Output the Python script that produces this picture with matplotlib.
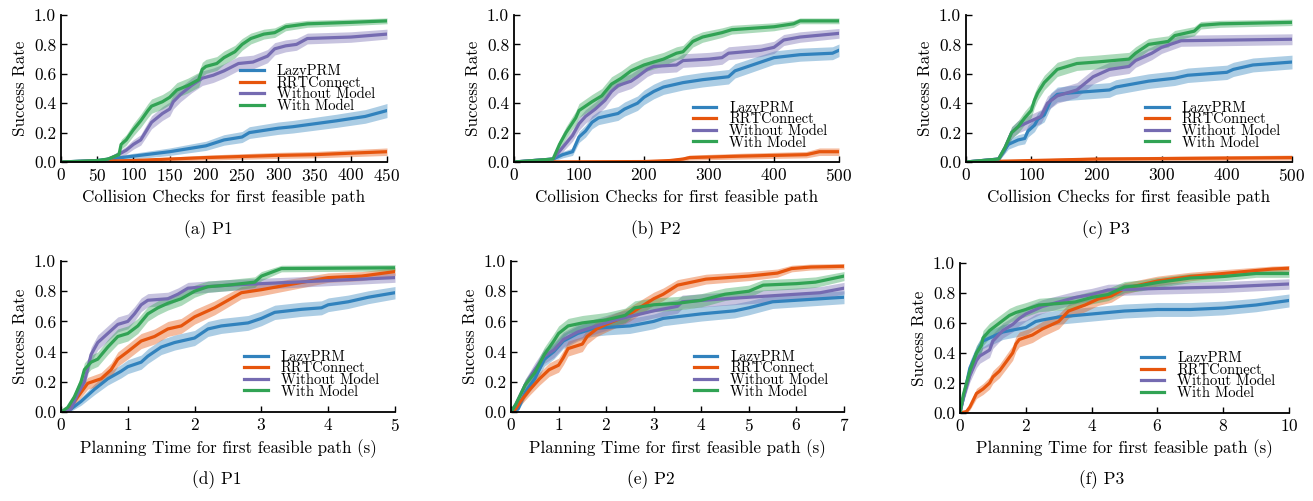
import numpy as np
import matplotlib
matplotlib.use("Agg")
import matplotlib.pyplot as plt

plt.rcParams["font.family"] = "cmr10"
plt.rcParams["mathtext.fontset"] = "cm"
plt.rcParams["axes.formatter.use_mathtext"] = True

# series order: LazyPRM, RRTConnect, Without Model, With Model
labels = ["LazyPRM", "RRTConnect", "Without Model", "With Model"]
colors = ["#3182bd", "#e6550d", "#756bb1", "#31a354"]
N_TRIALS = 100  # band = binomial standard error of the success rate

# (a) P1, collision checks
a_lazy_x = [0, 50, 100, 150, 200, 225, 250, 260, 300, 320, 350, 380, 420, 450]
a_lazy_y = [0, 0.01, 0.04, 0.07, 0.11, 0.15, 0.17, 0.20, 0.23, 0.24, 0.26, 0.28, 0.31, 0.35]
a_rrt_x = [0, 100, 200, 300, 350, 400, 450]
a_rrt_y = [0, 0.01, 0.03, 0.045, 0.05, 0.06, 0.07]
a_wo_x = [0, 60, 75, 90, 100, 110, 115, 125, 140, 150, 155, 165, 180, 195, 210, 225, 245, 265, 285, 295, 310, 325, 340, 400, 450]
a_wo_y = [0, 0.01, 0.04, 0.08, 0.12, 0.15, 0.19, 0.27, 0.33, 0.36, 0.41, 0.46, 0.52, 0.57, 0.59, 0.62, 0.67, 0.68, 0.72, 0.77, 0.79, 0.80, 0.84, 0.85, 0.87]
a_w_x = [0, 50, 65, 80, 83, 90, 100, 110, 120, 125, 140, 150, 160, 175, 190, 195, 200, 215, 225, 240, 250, 262, 280, 295, 310, 340, 400, 450]
a_w_y = [0, 0.01, 0.02, 0.05, 0.12, 0.15, 0.22, 0.28, 0.35, 0.38, 0.41, 0.44, 0.49, 0.52, 0.56, 0.63, 0.65, 0.67, 0.71, 0.75, 0.80, 0.84, 0.87, 0.88, 0.92, 0.94, 0.95, 0.96]

# (b) P2, collision checks
b_lazy_x = [0, 60, 75, 90, 100, 110, 120, 130, 160, 170, 190, 200, 215, 230, 260, 290, 330, 340, 360, 380, 400, 440, 490, 500]
b_lazy_y = [0, 0.02, 0.05, 0.07, 0.17, 0.21, 0.27, 0.30, 0.33, 0.36, 0.40, 0.44, 0.48, 0.51, 0.54, 0.56, 0.58, 0.62, 0.65, 0.68, 0.71, 0.73, 0.74, 0.76]
b_rrt_x = [0, 200, 240, 260, 270, 350, 450, 470, 500]
b_rrt_y = [0, 0.003, 0.01, 0.02, 0.03, 0.04, 0.05, 0.07, 0.07]
b_wo_x = [0, 60, 75, 90, 100, 110, 125, 140, 150, 160, 180, 190, 205, 215, 250, 260, 300, 320, 330, 380, 400, 415, 440, 500]
b_wo_y = [0, 0.02, 0.10, 0.18, 0.26, 0.31, 0.36, 0.42, 0.48, 0.52, 0.55, 0.58, 0.63, 0.65, 0.66, 0.69, 0.70, 0.71, 0.74, 0.76, 0.78, 0.83, 0.85, 0.875]
b_w_x = [0, 60, 70, 80, 95, 100, 120, 135, 150, 165, 180, 200, 230, 250, 260, 275, 290, 320, 335, 400, 430, 440, 500]
b_w_y = [0, 0.02, 0.12, 0.20, 0.30, 0.35, 0.41, 0.45, 0.53, 0.57, 0.62, 0.66, 0.70, 0.74, 0.75, 0.82, 0.85, 0.88, 0.90, 0.92, 0.94, 0.96, 0.96]

# (c) P3, collision checks
c_lazy_x = [0, 50, 65, 80, 90, 95, 105, 110, 120, 130, 140, 160, 220, 230, 280, 320, 340, 400, 410, 440, 500]
c_lazy_y = [0, 0.02, 0.12, 0.15, 0.16, 0.21, 0.25, 0.29, 0.32, 0.42, 0.46, 0.47, 0.49, 0.51, 0.55, 0.57, 0.59, 0.61, 0.63, 0.66, 0.68]
c_rrt_x = [0, 100, 200, 500]
c_rrt_y = [0, 0.01, 0.02, 0.03]
c_wo_x = [0, 50, 60, 70, 80, 100, 115, 125, 140, 170, 195, 220, 250, 260, 285, 300, 330, 500]
c_wo_y = [0, 0.02, 0.10, 0.20, 0.24, 0.28, 0.31, 0.40, 0.45, 0.49, 0.58, 0.63, 0.65, 0.69, 0.74, 0.78, 0.825, 0.835]
c_w_x = [0, 50, 60, 70, 80, 90, 100, 105, 110, 120, 140, 170, 200, 250, 260, 280, 310, 320, 350, 360, 390, 500]
c_w_y = [0, 0.02, 0.10, 0.20, 0.24, 0.30, 0.35, 0.42, 0.47, 0.54, 0.63, 0.67, 0.68, 0.70, 0.74, 0.80, 0.82, 0.86, 0.89, 0.93, 0.94, 0.95]

# (d) P1, planning time
d_lazy_x = [0, 0.15, 0.3, 0.5, 0.7, 0.9, 1.0, 1.2, 1.3, 1.5, 1.7, 2.0, 2.2, 2.4, 2.8, 3.0, 3.2, 3.6, 3.9, 4.0, 4.3, 4.6, 5.0]
d_lazy_y = [0, 0.02, 0.07, 0.15, 0.22, 0.27, 0.30, 0.33, 0.37, 0.43, 0.46, 0.49, 0.55, 0.57, 0.59, 0.62, 0.66, 0.68, 0.69, 0.71, 0.73, 0.76, 0.79]
d_rrt_x = [0, 0.1, 0.2, 0.3, 0.4, 0.6, 0.75, 0.85, 1.0, 1.2, 1.4, 1.6, 1.8, 2.0, 2.3, 2.5, 2.7, 3.0, 3.5, 4.0, 4.5, 5.0]
d_rrt_y = [0, 0.02, 0.07, 0.13, 0.19, 0.22, 0.28, 0.35, 0.40, 0.47, 0.50, 0.55, 0.57, 0.63, 0.69, 0.74, 0.79, 0.81, 0.85, 0.89, 0.90, 0.93]
d_wo_x = [0, 0.15, 0.25, 0.35, 0.45, 0.55, 0.7, 0.85, 1.0, 1.1, 1.2, 1.3, 1.6, 1.75, 1.9, 2.5, 3.0, 3.5, 4.0, 5.0]
d_wo_y = [0, 0.02, 0.12, 0.20, 0.38, 0.46, 0.52, 0.58, 0.60, 0.65, 0.71, 0.74, 0.75, 0.78, 0.82, 0.84, 0.85, 0.86, 0.87, 0.89]
d_w_x = [0, 0.1, 0.2, 0.3, 0.35, 0.45, 0.55, 0.7, 0.85, 1.0, 1.15, 1.3, 1.45, 1.6, 1.8, 2.0, 2.2, 2.5, 2.9, 3.0, 3.3, 5.0]
d_w_y = [0, 0.03, 0.10, 0.20, 0.28, 0.33, 0.35, 0.43, 0.50, 0.52, 0.57, 0.65, 0.69, 0.72, 0.75, 0.80, 0.83, 0.84, 0.86, 0.90, 0.95, 0.955]

# (e) P2, planning time
e_lazy_x = [0, 0.15, 0.3, 0.5, 0.7, 0.9, 1.1, 1.4, 1.7, 2.0, 2.5, 3.0, 3.2, 4.0, 4.7, 5.0, 5.5, 6.0, 7.0]
e_lazy_y = [0, 0.02, 0.13, 0.22, 0.35, 0.40, 0.47, 0.52, 0.55, 0.56, 0.57, 0.60, 0.62, 0.65, 0.67, 0.69, 0.73, 0.74, 0.76]
e_rrt_x = [0, 0.1, 0.2, 0.4, 0.6, 0.8, 1.0, 1.1, 1.2, 1.5, 1.6, 1.8, 2.0, 2.3, 2.5, 2.7, 3.0, 3.2, 3.5, 3.8, 4.1, 5.0, 5.6, 5.9, 6.3, 7.0]
e_rrt_y = [0, 0.02, 0.07, 0.15, 0.22, 0.28, 0.31, 0.36, 0.42, 0.45, 0.50, 0.55, 0.58, 0.62, 0.65, 0.69, 0.75, 0.78, 0.84, 0.86, 0.88, 0.90, 0.92, 0.95, 0.96, 0.965]
e_wo_x = [0, 0.1, 0.3, 0.5, 0.7, 0.9, 1.1, 1.4, 1.8, 2.2, 2.6, 3.0, 3.5, 3.6, 4.5, 5.0, 6.0, 6.5, 7.0]
e_wo_y = [0, 0.05, 0.18, 0.28, 0.37, 0.41, 0.48, 0.53, 0.57, 0.61, 0.64, 0.67, 0.70, 0.73, 0.75, 0.76, 0.78, 0.79, 0.82]
e_w_x = [0, 0.1, 0.3, 0.5, 0.7, 0.9, 1.0, 1.2, 1.5, 2.0, 2.4, 2.6, 3.0, 3.5, 4.0, 4.5, 5.0, 5.3, 6.0, 6.4, 7.0]
e_w_y = [0, 0.05, 0.18, 0.26, 0.38, 0.47, 0.52, 0.57, 0.59, 0.61, 0.64, 0.69, 0.71, 0.72, 0.74, 0.78, 0.80, 0.84, 0.85, 0.86, 0.90]

# (f) P3, planning time
f_lazy_x = [0, 0.1, 0.3, 0.5, 0.7, 1.0, 1.3, 2.0, 2.3, 2.5, 3.0, 4.0, 5.0, 6.0, 7.0, 8.0, 9.0, 10.0]
f_lazy_y = [0, 0.10, 0.30, 0.40, 0.48, 0.51, 0.54, 0.57, 0.61, 0.62, 0.64, 0.66, 0.68, 0.69, 0.69, 0.70, 0.72, 0.75]
f_rrt_x = [0, 0.2, 0.3, 0.5, 0.7, 0.9, 1.0, 1.2, 1.4, 1.6, 1.7, 1.8, 2.2, 2.5, 2.8, 3.0, 3.3, 3.8, 4.2, 4.6, 5.0, 6.0, 7.0, 8.0, 9.0, 9.5, 10.0]
f_rrt_y = [0, 0.01, 0.04, 0.13, 0.16, 0.20, 0.24, 0.28, 0.34, 0.40, 0.46, 0.49, 0.52, 0.56, 0.59, 0.61, 0.68, 0.72, 0.76, 0.78, 0.83, 0.88, 0.91, 0.93, 0.95, 0.96, 0.965]
f_wo_x = [0, 0.1, 0.3, 0.5, 0.6, 0.9, 1.0, 1.3, 1.6, 1.8, 2.0, 2.5, 3.0, 3.5, 4.0, 4.5, 6.0, 8.0, 9.0, 10.0]
f_wo_y = [0, 0.10, 0.25, 0.35, 0.38, 0.42, 0.48, 0.55, 0.59, 0.63, 0.66, 0.71, 0.74, 0.77, 0.79, 0.82, 0.83, 0.84, 0.85, 0.86]
f_w_x = [0, 0.1, 0.3, 0.5, 0.65, 0.7, 0.9, 1.2, 1.5, 1.7, 2.0, 2.4, 3.0, 3.5, 4.0, 4.5, 5.0, 5.5, 6.0, 7.0, 8.0, 9.0, 10.0]
f_w_y = [0, 0.12, 0.28, 0.40, 0.45, 0.50, 0.55, 0.60, 0.65, 0.67, 0.69, 0.72, 0.73, 0.74, 0.77, 0.79, 0.84, 0.85, 0.87, 0.90, 0.91, 0.93, 0.93]

panels = [
    ("(a) P1", [(a_lazy_x, a_lazy_y), (a_rrt_x, a_rrt_y), (a_wo_x, a_wo_y), (a_w_x, a_w_y)]),
    ("(b) P2", [(b_lazy_x, b_lazy_y), (b_rrt_x, b_rrt_y), (b_wo_x, b_wo_y), (b_w_x, b_w_y)]),
    ("(c) P3", [(c_lazy_x, c_lazy_y), (c_rrt_x, c_rrt_y), (c_wo_x, c_wo_y), (c_w_x, c_w_y)]),
    ("(d) P1", [(d_lazy_x, d_lazy_y), (d_rrt_x, d_rrt_y), (d_wo_x, d_wo_y), (d_w_x, d_w_y)]),
    ("(e) P2", [(e_lazy_x, e_lazy_y), (e_rrt_x, e_rrt_y), (e_wo_x, e_wo_y), (e_w_x, e_w_y)]),
    ("(f) P3", [(f_lazy_x, f_lazy_y), (f_rrt_x, f_rrt_y), (f_wo_x, f_wo_y), (f_w_x, f_w_y)]),
]
xlims = [450, 500, 500, 5, 7, 10]
xticks = [np.arange(0, 451, 50), np.arange(0, 501, 100), np.arange(0, 501, 100),
          np.arange(0, 6, 1), np.arange(0, 8, 1), np.arange(0, 11, 2)]
xlabels = ["Collision Checks for first feasible path"] * 3 + ["Planning Time for first feasible path (s)"] * 3

W, H = 1313, 501
# axes boxes in pixels: left, right, top, bottom
boxes = [(61, 387, 15, 162), (514, 839, 15, 162), (966, 1292, 15, 162),
         (61, 395, 261, 412), (511, 844, 261, 412), (960, 1289, 263, 413)]
caption_pos = [(208, 230), (656, 230), (1106, 230), (217, 480), (651, 480), (1102, 480)]
legend_y = [0.50, 0.25, 0.25, 0.25, 0.25, 0.25]

fig = plt.figure(figsize=(W / 100, H / 100), dpi=100)

for i, (caption, series) in enumerate(panels):
    l, r, t, b = boxes[i]
    ax = fig.add_axes([l / W, 1 - b / H, (r - l) / W, (b - t) / H])
    for (x, y), lab, c in zip(series, labels, colors):
        x = np.array(x, dtype=float)
        y = np.array(y, dtype=float)
        se = np.sqrt(y * (1 - y) / N_TRIALS)
        ax.fill_between(x, y - se, y + se, color=c, alpha=0.4, lw=0)
        ax.plot(x, y, color=c, lw=2.3, label=lab)
    ax.set_xlim(0, xlims[i])
    ax.set_ylim(0, 1.0)
    ax.set_xticks(xticks[i])
    ax.set_yticks(np.arange(0, 1.01, 0.2))
    ax.yaxis.set_major_formatter(matplotlib.ticker.FormatStrFormatter("%.1f"))
    ax.spines["top"].set_visible(False)
    ax.spines["right"].set_visible(False)
    ax.spines["left"].set_linewidth(1.3)
    ax.spines["bottom"].set_linewidth(1.3)
    ax.tick_params(direction="in", length=4, width=1, labelsize=12.5, top=False, right=False)
    ax.set_xlabel(xlabels[i], fontsize=12.2)
    ax.set_ylabel("Success Rate", fontsize=12.2)
    ax.legend(loc="center left", bbox_to_anchor=(0.51, legend_y[i]), frameon=False,
              fontsize=10.5, handlelength=1.6, handletextpad=0.9, labelspacing=-0.15)
    fig.text(caption_pos[i][0] / W, 1 - caption_pos[i][1] / H, caption,
             ha="center", va="center", fontsize=12.5)

fig.savefig("out.png", dpi=100)
